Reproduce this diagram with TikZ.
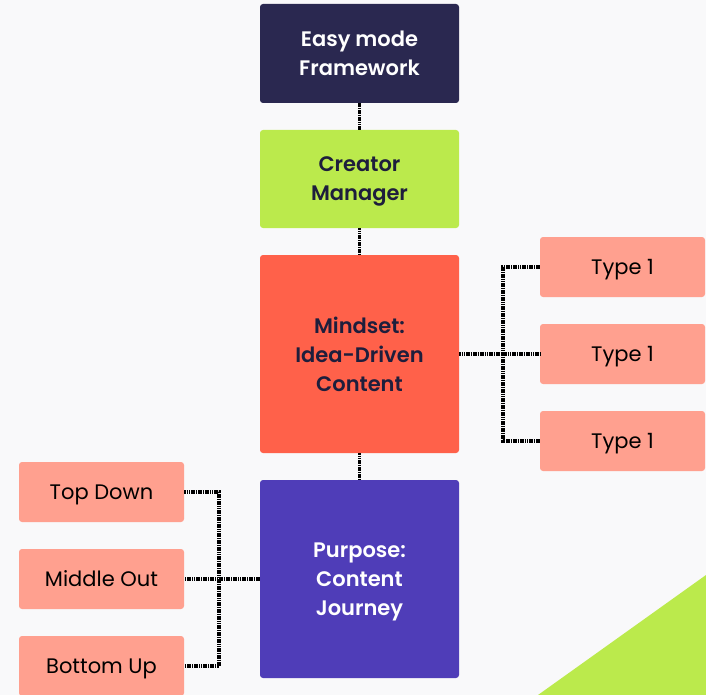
\documentclass[tikz,border=0pt]{standalone}
\usepackage{fontspec}
\setmainfont{Poppins}[BoldFont={Poppins SemiBold}]
\usetikzlibrary{calc}
\definecolor{bgc}{HTML}{F9F9FA}
\definecolor{navy}{HTML}{2A2850}
\definecolor{lime}{HTML}{BBEA4C}
\definecolor{tomato}{HTML}{FF614A}
\definecolor{violet}{HTML}{4F3DB8}
\definecolor{salmon}{HTML}{FFA08F}
\definecolor{inkc}{HTML}{1E1E3C}
\tikzset{
  mainbox/.style={rounded corners=3pt, minimum width=199pt, align=center, inner sep=0pt, text depth=0pt, font=\fontsize{21}{29}\selectfont\bfseries},
  subbox/.style={rounded corners=3pt, fill=salmon, minimum width=165pt, minimum height=60pt, inner sep=0pt, text height=15pt, text depth=0pt, font=\fontsize{21}{29}\selectfont, text=black},
  link/.style={draw=black, line width=3.2pt, dash pattern=on 1.6pt off 0.7pt}
}
\begin{document}
\begin{tikzpicture}[x=1pt,y=-1pt]
\useasboundingbox (0,0) rectangle (706,695);
\fill[bgc] (0,0) rectangle (706,695);
\begin{scope}
\clip (0,0) rectangle (706,695);
\fill[lime] (538,695) -- (706,575) -- (706,695) -- cycle;
\node[mainbox, fill=navy, text=white, minimum height=99pt] (easy) at (359.5,53.5) {Easy mode\\Framework};
\node[mainbox, fill=lime, text=inkc, minimum height=98pt] (creator) at (359.5,179) {Creator\\Manager};
\node[mainbox, fill=tomato, text=inkc, minimum height=198pt] (mind) at (359.5,354) {Mindset:\\Idea-Driven\\Content};
\node[mainbox, fill=violet, text=white, minimum height=198pt] (purpose) at (359.5,579) {Purpose:\\Content\\Journey};
\node[subbox] (t1) at (622.5,267) {Type 1};
\node[subbox] (t2) at (622.5,354) {Type 1};
\node[subbox] (t3) at (622.5,441) {Type 1};
\node[subbox] (top) at (101.5,492) {Top Down};
\node[subbox] (mid) at (101.5,579) {Middle Out};
\node[subbox] (bot) at (101.5,666) {Bottom Up};
\coordinate (rj) at (503,354);
\coordinate (lj) at (219,579);
\draw[link] (easy.south) -- (creator.north);
\draw[link] (creator.south) -- (mind.north);
\draw[link] (mind.south) -- (purpose.north);
\draw[link] (mind.east) -- (t2.west);
\draw[link] (t1.west) -- (t1.west -| rj) -- (t3.west -| rj) -- (t3.west);
\draw[link] (purpose.west) -- (mid.east);
\draw[link] (top.east) -- (top.east -| lj) -- (bot.east -| lj) -- (bot.east);
\end{scope}
\end{tikzpicture}
\end{document}
